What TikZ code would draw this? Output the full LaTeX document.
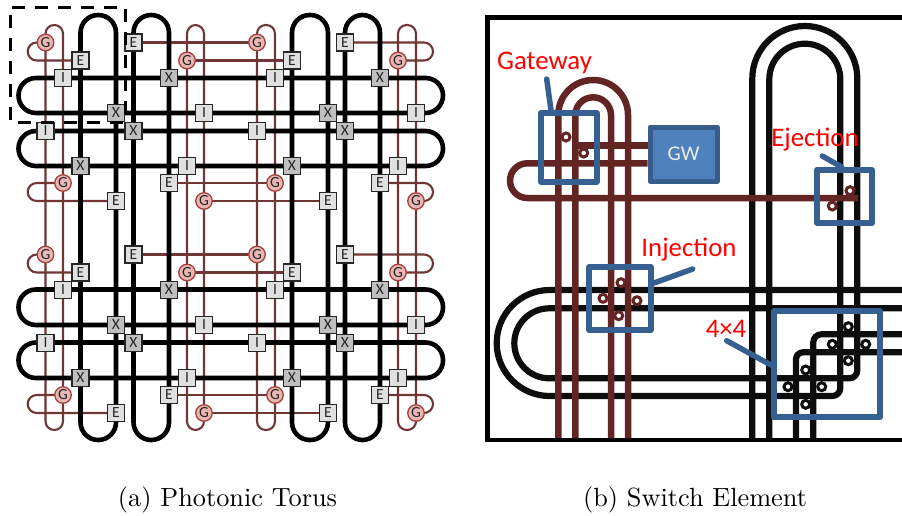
\documentclass[tikz,border=0pt]{standalone}
\usepackage{fontspec}
\newfontfamily\carl{Carlito}
\usetikzlibrary{backgrounds}
\definecolor{brownline}{HTML}{632523}
\definecolor{bluebox}{HTML}{376092}
\definecolor{gwfill}{HTML}{4F81BD}
\definecolor{gwedge}{HTML}{385D8A}
\definecolor{blk}{HTML}{0D0D0D}
\definecolor{gfill}{HTML}{E9B7B3}
\definecolor{gedge}{HTML}{A5403C}
\pgfdeclarelayer{wires}
\pgfdeclarelayer{wiresb}
\pgfsetlayers{wires,wiresb,main}
\tikzset{
  thinw/.style={draw=brownline!92!white,line width=2.1pt},
  thickw/.style={draw=black,line width=4.6pt},
  nbase/.style={draw=black!85,line width=1.2pt,inner sep=0pt,minimum size=17pt,font=\carl\fontsize{15.5}{15.5}\selectfont,text=black!85},
  nE/.style={nbase,fill=black!12},
  nI/.style={nbase,fill=black!12},
  nX/.style={nbase,fill=black!25},
  nG/.style={nbase,circle,draw=gedge,line width=1.3pt,fill=gfill,minimum size=16.5pt},
  bw/.style={draw=brownline,line width=6.5pt},
  kw/.style={draw=blk,line width=6.2pt},
  bbox/.style={draw=bluebox,line width=6pt,line join=round,inner sep=0pt},
  lead/.style={draw=bluebox,line width=5.5pt,line cap=round},
  lab/.style={anchor=base,text=red,inner sep=0pt,font=\carl\fontsize{26.8}{26.8}\selectfont},
  ringb/.style={circle,draw=brownline,fill=white,line width=3pt,minimum size=8pt,inner sep=0pt},
  ringk/.style={circle,draw=blk,fill=white,line width=3pt,minimum size=8pt,inner sep=0pt},
  capn/.style={anchor=base,inner sep=0pt,scale=2.63}
}
\begin{document}
\begin{tikzpicture}[x=1pt,y=-1pt]
\useasboundingbox (0,0) rectangle (902,515);

% ---------- Panel (a): switching nodes, two identical halves
\foreach \s/\dy in {t/0,b/212}{
  \foreach \k/\n/\x/\y in {
    G/a1/45.5/42.5, E/e1/133.5/42.5, G/i1/257/42.5, E/m1/345/42.5,
    E/c2/80.5/60.5, G/g2/187/60.5, E/k2/292/60.5, G/o2/398/60.5,
    I/b3/63/78, X/f3/169/78, I/j3/275/78, X/n3/380/78,
    X/d4/116/113, I/h4/204/113, X/l4/328/113, I/p4/416/113,
    I/a5/45.5/131, X/e5/133.5/131, I/i5/257/131, X/m5/345/131,
    X/c6/80.5/166, I/g6/187/166, X/k6/292/166, I/o6/398/166,
    G/b7/63/183, E/f7/169/183, G/j7/275/183, E/n7/380/183,
    E/d8/116/201, G/h8/204/201, E/l8/328/201, G/p8/416/201}{
    \node[n\k] (\n\s) at (\x,\y+\dy) {\k};
  }
}

% thin horizontal wires
\begin{pgfonlayer}{wires}
\foreach \s/\dy in {t/0,b/212}{
  \draw[thinw,rounded corners=9pt] (a1\s.center) -- (27.7,42.5+\dy) -- (27.7,60.5+\dy) -- (c2\s.center);
  \draw[thinw] (e1\s.center) -- (i1\s.center);
  \draw[thinw] (k2\s.center) -- (g2\s.center);
  \draw[thinw,rounded corners=9pt] (m1\s.center) -- (433,42.5+\dy) -- (433,60.5+\dy) -- (o2\s.center);
  \draw[thinw,rounded corners=9pt] (b7\s.center) -- (27.7,183+\dy) -- (27.7,201+\dy) -- (d8\s.center);
  \draw[thinw] (f7\s.center) -- (j7\s.center);
  \draw[thinw] (h8\s.center) -- (l8\s.center);
  \draw[thinw,rounded corners=9pt] (n7\s.center) -- (433,183+\dy) -- (433,201+\dy) -- (p8\s.center);
}
% thin vertical rings
\foreach \xa/\xb in {45.5/63,187/204,257/275,398/416}{
  \draw[thinw,rounded corners=8.7pt] (\xa,25) rectangle (\xb,430);
}
\end{pgfonlayer}
\begin{pgfonlayer}{wiresb}
% thick vertical rings
\foreach \xa/\xb in {80.5/116,133.5/169,292/328,345/380}{
  \draw[thickw,rounded corners=17.7pt] (\xa,15) rectangle (\xb,440);
}
% thick horizontal rings
\foreach \ya/\yb in {78/113,131/166,289.5/325,342.5/378}{
  \draw[thickw,rounded corners=17.4pt] (18.5,\ya) rectangle (443,\yb);
}
\end{pgfonlayer}

% dashed region marker
\draw[black,line width=3pt,dash pattern=on 13pt off 10pt] (11.7,7) -- (125,7) -- (125,122) -- (10.5,122) -- (10.5,7);

% ---------- Panel (b)
\node[draw=gwedge,fill=gwfill,line width=5pt,line join=round,minimum width=67pt,minimum height=54pt,inner sep=0pt,text=white!93!black,font=\carl\fontsize{21}{21}\selectfont] (gwbox) at (683.5,154) {GW};

\begin{pgfonlayer}{wires}
% frame
\draw[black,line width=4.6pt,line join=miter] (902,17.5) -- (487.2,17.5) -- (487.2,440) -- (902,440);
% black waveguides
\draw[kw,rounded corners=52.5pt] (752.3,438) -- (752.3,26) -- (857.3,26) -- (857.3,100);
\draw[kw,rounded corners=35.5pt] (769.3,438) -- (769.3,43.7) -- (840.3,43.7) -- (840.3,100);
\draw[kw,rounded corners=53pt] (902,290) -- (496.7,290) -- (496.7,396) -- (600,396);
\draw[kw,rounded corners=35pt] (902,308.3) -- (514.3,308.3) -- (514.3,378.3) -- (600,378.3);
\draw[kw,rounded corners=8pt] (857.3,100) -- (857.3,378.3) -- (600,378.3);
\draw[kw,rounded corners=8pt] (840.3,100) -- (840.3,396) -- (600,396);
\draw[kw,rounded corners=7pt] (796,438) -- (796,352.3) -- (902,352.3);
\draw[kw,rounded corners=8pt] (813.3,438) -- (813.3,334.3) -- (902,334.3);
\end{pgfonlayer}
\begin{pgfonlayer}{wiresb}
% brown waveguides
\draw[bw,rounded corners=34.8pt] (558.3,438) -- (558.3,80) -- (628,80) -- (628,438);
\draw[bw,rounded corners=17.8pt] (575.3,438) -- (575.3,97.3) -- (611,97.3) -- (611,438);
\draw[bw] (gwbox.west |- 0,145.3) -- (575.3,145.3);
\draw[bw,rounded corners=17.3pt] (gwbox.west |- 0,163.3) -- (510,163.3) -- (510,198) -- (858,198);
\end{pgfonlayer}

% coupling rings
\foreach \n/\x/\y in {g1/566/137, g2/583.7/153, j1/621/282.7, j2/603/298.3, j3/637/300.7, j4/618.7/315.7, x1/850/190.7, x2/832.3/206}{
  \node[ringb] (r\n) at (\x,\y) {};
}
\foreach \n/\x/\y in {a1/848.3/326.7, a2/832.3/344.3, a3/865.7/344.3, a4/848.3/360.7, b1/805.7/370, b2/788/386.7, b3/821.7/386.7, b4/805.7/404.3}{
  \node[ringk] (s\n) at (\x,\y) {};
}

% blue highlight boxes
\node[bbox,minimum width=56pt,minimum height=68.4pt] (gatebox) at (568.7,147.5) {};
\node[bbox,minimum width=62pt,minimum height=62.7pt] (injbox) at (620,298.7) {};
\node[bbox,minimum width=55.6pt,minimum height=52.7pt] (ejbox) at (844.5,196.4) {};
\node[bbox,minimum width=106pt,minimum height=106.3pt] (fourbox) at (827,364.2) {};

% labels and leaders
\node[lab] (gatelab) at (544.5,69.3) {Gateway};
\node[lab] (injlab) at (689,256) {Injection};
\node[lab] (ejlab) at (815,146.7) {Ejection};
\node[lab] (fourlab) at (726,337.3) {4×4};
\coordinate (gateend) at (546.7,79);
\coordinate (injend) at (692.7,269);
\coordinate (ejend) at (822.3,156);
\coordinate (fourend) at (726.7,340.7);
\draw[lead] (gateend) -- (gatebox.north west -| 551,0);
\draw[lead] (injend) -- (injbox.east |- 0,283);
\draw[lead] (ejend) -- (ejbox.north -| 841.7,0);
\draw[lead] (fourend) -- (fourbox.west |- 0,365);

% captions
\node[capn] (capa) at (227.5,506.7) {(a) Photonic Torus};
\node[capn] (capb) at (695,506.7) {(b) Switch Element};
\end{tikzpicture}
\end{document}
